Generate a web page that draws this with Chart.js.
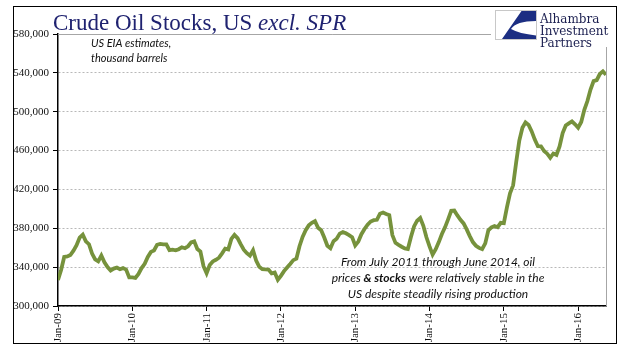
<!DOCTYPE html>
<html>
<head>
<meta charset="utf-8">
<script src="https://cdn.jsdelivr.net/npm/chart.js@4.4.0/dist/chart.umd.min.js"></script>
<style>
  body { margin: 0; background: #fff; }
  canvas { display: block; }
</style>
</head>
<body>
<canvas id="oilChart" width="641" height="361"></canvas>
<script>
// US crude oil stocks excl. SPR (thousand barrels), one reading every half month from Jan 2009
const stocks = [
  326700, 337000, 350500, 351000, 352500, 357000, 362500, 370500, 373500, 366500, 363600, 354000,
  348000, 346000, 352000, 345000, 340000, 336500, 338500, 339500, 337800, 339000, 337500, 329500,
  329500, 329000, 333000, 339000, 343500, 350500, 355700, 357200, 363000, 364000, 363500, 363500,
  357500, 358000, 357300, 358500, 360500, 359500, 361500, 365500, 366500, 358600, 356000, 341000,
  333800, 342200, 345900, 347600, 349700, 354200, 359100, 358300, 369000, 373200, 369800, 363600,
  357900, 354400, 351800, 357300, 346800, 340300, 337900, 337600, 337500, 333600, 334400, 327000,
  331000, 335900, 339600, 343300, 347200, 348800, 361500, 371200, 378100, 383000, 385600, 387300,
  380600, 378000, 370500, 362000, 359500, 366800, 369200, 374500, 376000, 374800, 373000, 370900,
  362400, 366300, 373900, 379300, 383700, 387000, 388300, 388700, 395000, 396300, 394800, 393500,
  373000, 365000, 362900, 361000, 359300, 358700, 371000, 381900, 387800, 390600, 382500, 370700,
  361300, 352900, 358500, 365800, 374100, 381000, 389200, 397900, 398200, 393200, 388700, 385000,
  378900, 372000, 365800, 362000, 359800, 358500, 364500, 378000, 380900, 382300, 381100, 385600,
  385200, 401500, 416000, 424200, 448300, 470300, 483500, 489000, 486400, 479700, 471300, 464500,
  464400, 459600, 456800, 452600, 457000, 455600, 464300, 478000, 485800, 488000, 490000, 487000,
  483500, 489400, 501900, 511000, 522900, 531500, 532500, 538800, 541600, 538000
];
const tickLabels = ['Jan-09', 'Jan-10', 'Jan-11', 'Jan-12', 'Jan-13', 'Jan-14', 'Jan-15', 'Jan-16'];

const titleParts = ['Crude Oil Stocks, US ', 'excl. SPR'];
const unitNote = ['US EIA estimates,', 'thousand barrels'];
const logoLines = ['Alhambra', 'Investment', 'Partners'];
// each line is a list of [text, bold] pieces
const noteLines = [
  [['From July 2011 through June 2014, oil', false]],
  [['prices ', false], ['& stocks', true], [' were relatively stable in the', false]],
  [['US despite steadily rising production', false]]
];

const NAVY = '#1f2270';
const OLIVE = '#76923c';

const decorPlugin = {
  id: 'decor',
  beforeDraw(chart) {
    const ctx = chart.ctx;
    ctx.save();
    ctx.fillStyle = '#fff';
    ctx.fillRect(0, 0, chart.width, chart.height);
    ctx.restore();
  },
  afterDraw(chart) {
    const ctx = chart.ctx;
    const area = chart.chartArea;
    ctx.save();

    // plot box top + right edge
    ctx.strokeStyle = '#a6a6a6';
    ctx.lineWidth = 1;
    ctx.beginPath();
    ctx.moveTo(area.left, area.top + 0.5);
    ctx.lineTo(area.right + 0.5, area.top + 0.5);
    ctx.lineTo(area.right + 0.5, area.bottom);
    ctx.stroke();

    // outer frame
    ctx.strokeStyle = '#000';
    ctx.strokeRect(13.5, 6.5, 603, 337);

    // logo
    ctx.fillStyle = '#fff';
    ctx.fillRect(491, 7, 122, 40);
    ctx.strokeStyle = '#c8c8c8';
    ctx.strokeRect(495.5, 10.5, 41, 29);
    ctx.fillStyle = '#1c2e82';
    ctx.beginPath();
    ctx.moveTo(521.5, 11);
    ctx.lineTo(536, 11);
    ctx.lineTo(536, 21);
    ctx.quadraticCurveTo(516, 21, 511, 29);
    ctx.quadraticCurveTo(519, 33.5, 536, 35.5);
    ctx.lineTo(536, 39);
    ctx.lineTo(502, 39);
    ctx.closePath();
    ctx.fill();

    ctx.fillStyle = '#1b1f50';
    ctx.font = '12px "DejaVu Serif"';
    ctx.textAlign = 'left';
    ctx.textBaseline = 'alphabetic';
    logoLines.forEach((t, i) => ctx.fillText(t, 540, 22.5 + i * 12));

    // title
    ctx.fillStyle = NAVY;
    ctx.font = '23px "Liberation Serif"';
    ctx.fillText(titleParts[0], 53, 29.5);
    const w0 = ctx.measureText(titleParts[0]).width;
    ctx.font = 'italic 23px "Liberation Serif"';
    ctx.fillText(titleParts[1], 53 + w0, 29.5);

    // units note
    ctx.fillStyle = '#111';
    ctx.font = 'italic 11px Lato';
    unitNote.forEach((t, i) => ctx.fillText(t, 91, 47 + i * 15));

    // comment under the curve
    const cx = 438;
    noteLines.forEach((parts, i) => {
      const fonts = parts.map(p => (p[1] ? 'italic bold' : 'italic') + ' 12px Lato');
      let total = 0;
      parts.forEach((p, j) => { ctx.font = fonts[j]; total += ctx.measureText(p[0]).width; });
      let x = cx - total / 2;
      parts.forEach((p, j) => {
        ctx.font = fonts[j];
        ctx.fillText(p[0], x, 265.5 + i * 16);
        x += ctx.measureText(p[0]).width;
      });
    });

    ctx.restore();
  }
};

const data = {
  datasets: [{
    label: 'Crude oil stocks excl. SPR',
    data: stocks.map((v, i) => ({ x: i / 2, y: v })),
    borderColor: OLIVE,
    borderWidth: 3.8,
    pointRadius: 0,
    tension: 0,
    fill: false
  }]
};

const options = {
  responsive: false,
  animation: false,
  layout: { padding: { left: 0, top: 34, right: 35, bottom: 0 } },
  plugins: {
    legend: { display: false },
    title: { display: false },
    tooltip: { enabled: false }
  },
  scales: {
    x: {
      type: 'linear',
      min: 0,
      max: (stocks.length - 1) / 2,
      afterBuildTicks: scale => {
        scale.ticks = tickLabels.map((_, i) => ({ value: i * 12 }));
      },
      afterFit: scale => { scale.height = 55; },
      ticks: {
        callback: value => tickLabels[value / 12],
        minRotation: 90,
        maxRotation: 90,
        autoSkip: false,
        padding: 2,
        color: '#111',
        font: { family: 'Liberation Serif', size: 11 }
      },
      grid: {
        drawOnChartArea: false,
        drawTicks: true,
        tickLength: 5,
        tickColor: '#000'
      },
      border: { color: '#000', width: 1.5 }
    },
    y: {
      min: 300000,
      max: 580000,
      afterFit: scale => { scale.width = 58; },
      ticks: {
        stepSize: 40000,
        padding: 4,
        color: '#111',
        font: { family: 'Liberation Serif', size: 11 },
        callback: value => value.toLocaleString('en-US')
      },
      grid: {
        color: '#b8b8b8',
        tickLength: 5,
        tickColor: '#000'
      },
      border: { color: '#000', width: 1.5, dash: [2, 2] }
    }
  }
};

const ctx = document.getElementById('oilChart').getContext('2d');
new Chart(ctx, {
  type: 'line',
  data: data,
  options: options,
  plugins: [decorPlugin]
});
</script>
</body>
</html>
